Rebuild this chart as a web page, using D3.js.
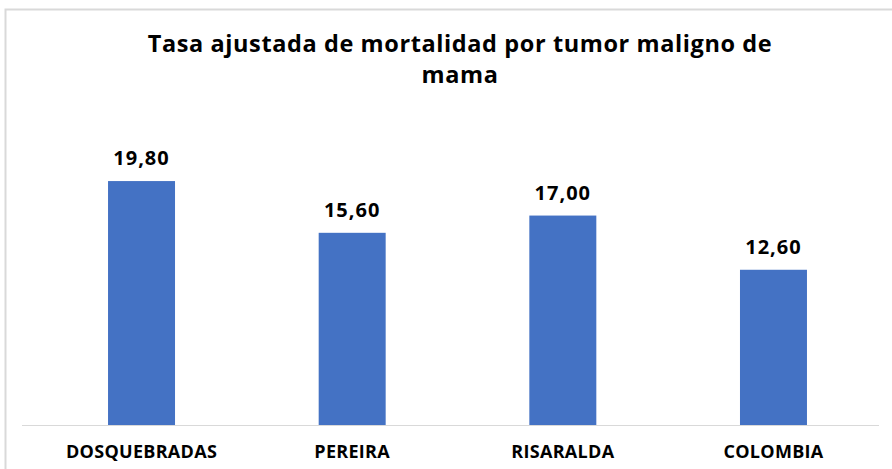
<!DOCTYPE html>
<html><head><meta charset="utf-8">
<script src="https://cdn.jsdelivr.net/npm/d3@7"></script>
<style>body{margin:0;background:#fff}svg{display:block}</style>
</head><body><svg id="c" width="892" height="469"></svg>
<script>
const categories = ["DOSQUEBRADAS","PEREIRA","RISARALDA","COLOMBIA"];
const values = [19.80, 15.60, 17.00, 12.60];
const valueLabels = ["19,80","15,60","17,00","12,60"];
const titleLines = ["Tasa ajustada de mortalidad por tumor maligno de","mama"];

const svg = d3.select("#c");
svg.append("rect").attr("x",5.5).attr("y",9.5).attr("width",900).attr("height",480)
  .attr("fill","#fff").attr("stroke","#d9d9d9").attr("stroke-width",2);

const x = d3.scaleBand().domain(categories).range([36.2, 878.8]).paddingInner(0.682).paddingOuter(0.341);
const y = d3.scaleLinear().domain([0, 25]).range([425, 117]);

const font = "'Open Sans','Noto Sans',sans-serif";

svg.append("g").selectAll("text").data(titleLines).join("text")
  .attr("x", 460).attr("y",(d,i)=>52+i*31).attr("text-anchor","middle")
  .attr("font-family",font).attr("font-weight","bold").attr("font-size",23.5).attr("fill","#000")
  .attr("letter-spacing","0.6")
  .text(d=>d);

svg.append("g").selectAll("rect").data(values).join("rect")
  .attr("x",(d,i)=>x(categories[i])).attr("width",x.bandwidth())
  .attr("y",d=>y(d)).attr("height",d=>y(0)-y(d)).attr("fill","#4472C4");

svg.append("line").attr("x1",22).attr("x2",879).attr("y1",425.5).attr("y2",425.5)
  .attr("stroke","#d9d9d9").attr("stroke-width",1);

svg.append("g").selectAll("text").data(values).join("text")
  .attr("x",(d,i)=>x(categories[i])+x.bandwidth()/2).attr("y",d=>y(d)-16)
  .attr("text-anchor","middle").attr("font-family",font)
  .attr("font-weight","bold").attr("font-size",20).attr("fill","#000")
  .attr("letter-spacing","1")
  .text((d,i)=>valueLabels[i]);

const xa = svg.append("g").attr("transform","translate(0,425)")
  .call(d3.axisBottom(x).tickSize(0).tickPadding(0));
xa.select(".domain").remove();
xa.selectAll("text").attr("dy",0).attr("y",33)
  .attr("font-family",font).attr("font-weight","bold").attr("font-size",18).attr("fill","#000")
  .attr("letter-spacing","0.3");
</script></body></html>
